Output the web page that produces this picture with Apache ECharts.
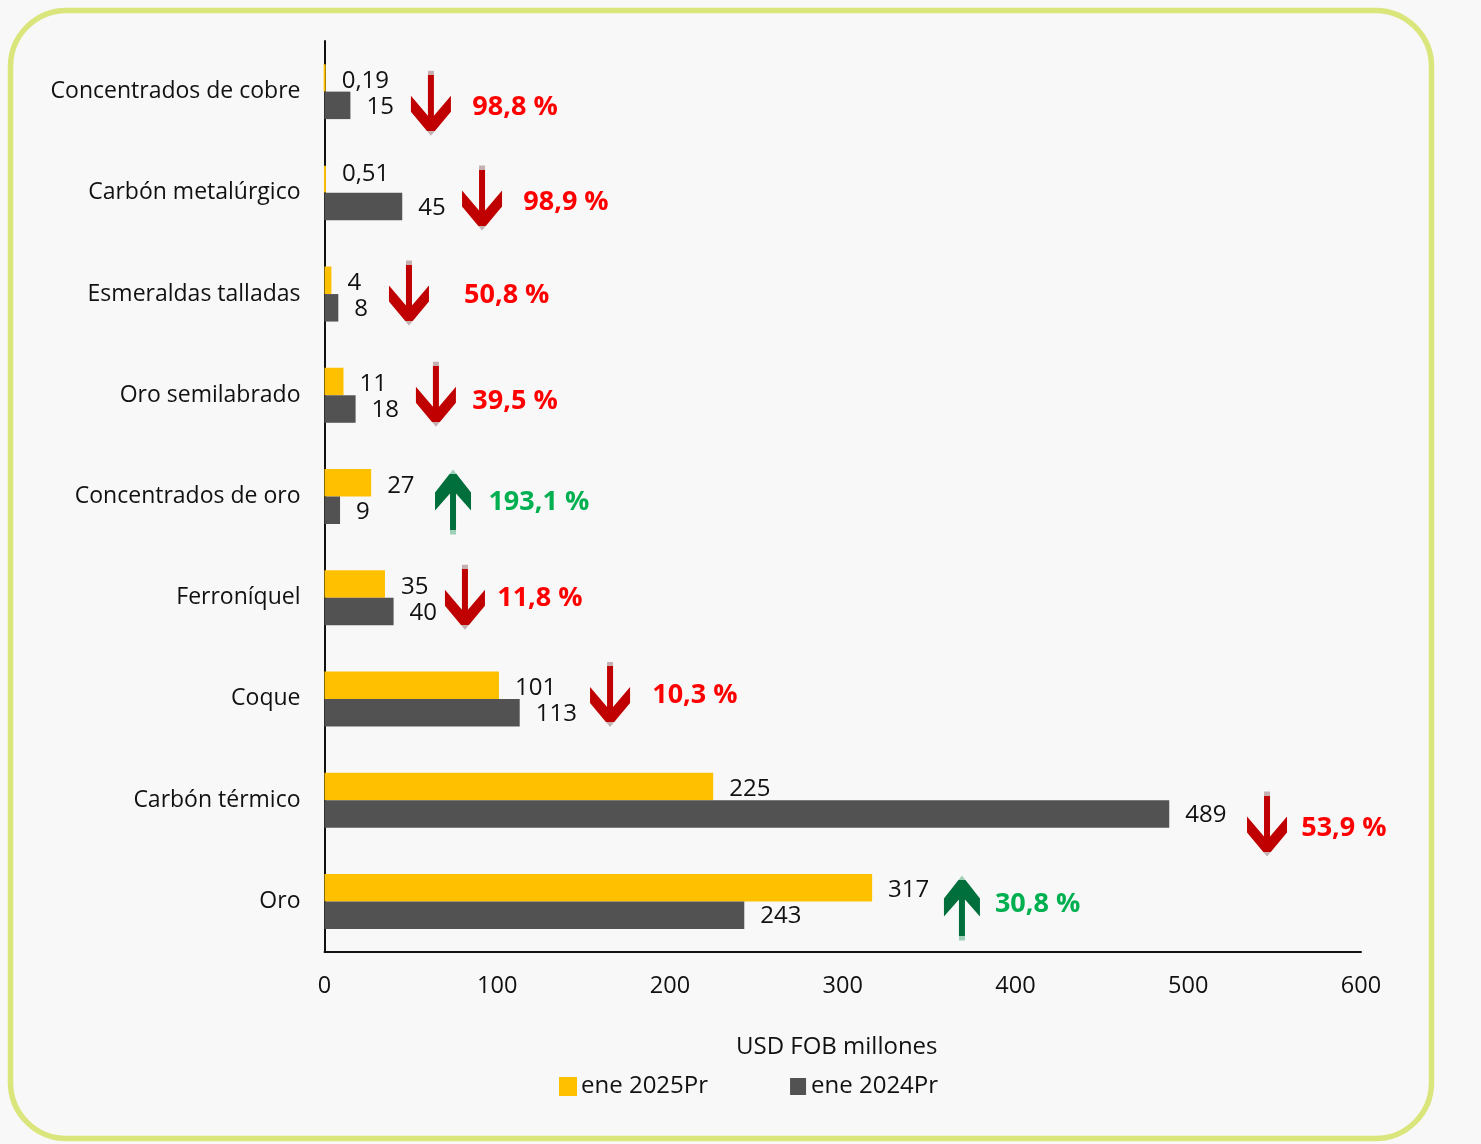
<!DOCTYPE html>
<html>
<head>
<meta charset="utf-8">
<title>Exportaciones mineras</title>
<script src="https://cdn.jsdelivr.net/npm/echarts@6/dist/echarts.min.js"></script>
<style>
  html, body { margin: 0; padding: 0; background: #f8f8f8; }
  #chart { width: 1481px; height: 1144px; }
</style>
</head>
<body>
<div id="chart"></div>
<script>
const categories = ['Concentrados de cobre', 'Carbón metalúrgico', 'Esmeraldas talladas', 'Oro semilabrado',
  'Concentrados de oro', 'Ferroníquel', 'Coque', 'Carbón térmico', 'Oro'];
const ene2025 = [0.19, 0.51, 4, 11, 27, 35, 101, 225, 317];
const ene2024 = [15, 45, 8, 18, 9, 40, 113, 489, 243];

// flechas y porcentajes (x en USD, y en filas desde arriba)
const changeText = ['98,8 %', '98,9 %', '50,8 %', '39,5 %', '193,1 %', '11,8 %', '10,3 %', '53,9 %', '30,8 %'];
const changeUp = [false, false, false, false, true, false, false, false, true];
const arrowX = [61.6, 91.2, 48.9, 64.5, 74.4, 81.3, 165.3, 545.6, 369];
const arrowY = [0.615, 1.55, 2.49, 3.49, 4.555, 5.495, 6.455, 7.735, 8.565];
const textX = [85.3, 114.8, 80.5, 85.3, 94.6, 99.7, 189.4, 565.1, 387.8];
const textY = [0.65, 1.58, 2.5, 3.55, 4.55, 5.5, 6.45, 7.77, 8.52];

const downPath = 'path://M17,0 L23,0 L23,45 L40,25 L40,41 L20,65 L0,41 L0,25 L17,45 Z';
const upPath = 'path://M18,0 L36,23 L36,41 L21,24 L21,65 L15,65 L15,24 L0,41 L0,23 Z';

function arrowColor(main, end) {
  return {
    type: 'linear', x: 0, y: 0, x2: 0, y2: 1,
    colorStops: [
      { offset: 0, color: end }, { offset: 0.07, color: end },
      { offset: 0.07, color: main }, { offset: 0.93, color: main },
      { offset: 0.93, color: end }, { offset: 1, color: end }
    ]
  };
}

const font = '"Open Sans", sans-serif';
const textColor = '#111111';

function valueLabel(p) {
  return String(p.value).replace('.', ',');
}

function barLabel(offsetY) {
  return {
    show: true,
    position: 'right',
    distance: 16,
    offset: [0, offsetY],
    color: textColor,
    fontFamily: font,
    fontSize: 24,
    formatter: valueLabel
  };
}

const chart = echarts.init(document.getElementById('chart'), null, { renderer: 'canvas' });
chart.setOption({
  animation: false,
  backgroundColor: '#f8f8f8',
  textStyle: { fontFamily: font },
  graphic: [{
    type: 'rect',
    silent: true,
    z: -1,
    shape: { x: 10.5, y: 10.5, width: 1421, height: 1128, r: 56 },
    style: { fill: '#f8f8f8', stroke: '#dae57b', lineWidth: 5.5 }
  }],
  grid: { left: 324.5, top: 41, width: 1036.5, height: 911, containLabel: false },
  legend: {
    left: 554,
    top: 1069.5,
    icon: 'rect',
    itemWidth: 16,
    itemHeight: 17,
    itemGap: 82,
    data: ['ene 2025Pr', 'ene 2024Pr'],
    textStyle: { color: textColor, fontSize: 24, fontFamily: font }
  },
  xAxis: {
    type: 'value',
    position: 'bottom',
    min: 0,
    max: 600,
    interval: 100,
    name: 'USD FOB millones',
    nameLocation: 'middle',
    nameGap: 83,
    nameTextStyle: { color: textColor, fontSize: 24, fontFamily: font, padding: [0, 12, 0, 0] },
    axisLine: { show: true, onZero: false, lineStyle: { color: '#111111', width: 2 } },
    axisTick: { show: false },
    splitLine: { show: false },
    axisLabel: { color: textColor, fontSize: 23.5, fontFamily: font, margin: 22 }
  },
  yAxis: [{
    type: 'category',
    inverse: true,
    data: categories,
    axisLine: { show: true, lineStyle: { color: '#111111', width: 2 } },
    axisTick: { show: false },
    axisLabel: { color: textColor, fontSize: 23, fontFamily: font, margin: 24 }
  }, {
    type: 'value',
    inverse: true,
    min: 0,
    max: 9,
    show: false
  }],
  series: [{
    name: 'ene 2025Pr',
    type: 'bar',
    data: ene2025.map((v, i) => (i === 1 ? { value: v, label: barLabel(-5) } : v)),
    barWidth: 27.5,
    barGap: 0,
    itemStyle: { color: '#ffc000', borderColor: '#ffc000', borderWidth: 2 },
    label: barLabel(3)
  }, {
    name: 'ene 2024Pr',
    type: 'bar',
    data: ene2024,
    barWidth: 27.5,
    z: 3,
    itemStyle: { color: '#525252' },
    label: barLabel(1.5)
  }, {
    type: 'scatter',
    yAxisIndex: 1,
    silent: true,
    data: arrowX.map((x, i) => ({
      value: [x, arrowY[i]],
      symbol: changeUp[i] ? upPath : downPath,
      symbolSize: changeUp[i] ? [36, 65] : [40, 65],
      itemStyle: {
        color: changeUp[i] ? arrowColor('#006f3c', '#9fd0b8') : arrowColor('#c00000', '#c4b0b0'),
        opacity: 1
      }
    }))
  }, {
    type: 'scatter',
    yAxisIndex: 1,
    silent: true,
    symbolSize: 1,
    itemStyle: { color: 'rgba(0,0,0,0)', opacity: 1 },
    data: textX.map((x, i) => ({
      value: [x, textY[i]],
      label: {
        show: true,
        position: 'right',
        distance: 0,
        offset: [0, 1],
        formatter: changeText[i],
        color: changeUp[i] ? '#00b050' : '#ff0000',
        fontFamily: font,
        fontSize: 27,
        fontWeight: 'bold'
      }
    }))
  }]
});
</script>
</body>
</html>
